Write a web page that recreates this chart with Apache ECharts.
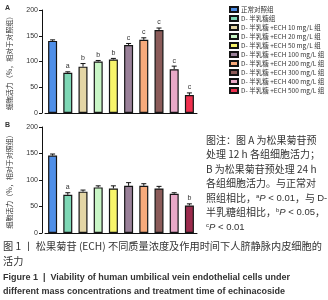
<!DOCTYPE html>
<html><head><meta charset="utf-8">
<script src="https://cdn.jsdelivr.net/npm/echarts@6/dist/echarts.min.js"></script>
<style>html,body{margin:0;padding:0;background:#fff}#c{width:328px;height:300px}</style>
</head><body><div id="c"></div>
<script>
const categories = ['正常对照组','D- 半乳糖组','D- 半乳糖 +ECH 10 mg/L 组','D- 半乳糖 +ECH 20 mg/L 组','D- 半乳糖 +ECH 50 mg/L 组','D- 半乳糖 +ECH 100 mg/L 组','D- 半乳糖 +ECH 200 mg/L 组','D- 半乳糖 +ECH 300 mg/L 组','D- 半乳糖 +ECH 400 mg/L 组','D- 半乳糖 +ECH 500 mg/L 组'];
const colorsA = ['#4f8fe8','#7ed8b6','#e3d5a5','#c9f6c6','#f7f46a','#9a8199','#f7aa7b','#8b5b59','#e9a9c8','#f0304f'];
const colorsB = ['#4f8fe8','#7ed8b6','#e3d5a5','#c9f6c6','#f7f46a','#9a8199','#f7aa7b','#8b5b59','#e9a9c8','#9c2b4d'];
const valuesA = [140,78,90,100,104,132,142,161,85,35];
const errorsA = [2,2,6,2,2,3,4,4,6,4];
const sigA = ['','a','b','b','b','c','c','c','c','c'];
const valuesB = [146,72,78,86,84,89,89,84,74,52];
const errorsB = [3,4,3,3,5,6,4,4,2,3];
const sigB = ['','a','','','','','','','','b'];
const yTicks = [0,50,100,150,200];
const yName = '细胞活力（%，相对于对照组）';
const noteLines = [
  '图注：图 A 为松果菊苷预',
  '处理 12 h 各组细胞活力；',
  'B 为松果菊苷预处理 24 h',
  '各组细胞活力。与正常对',
  '照组相比，{s|a}{i|P}{n| < 0.01}，与 {n|D-}',
  '半乳糖组相比，{s|b}{i|P}{n| < 0.05}，',
  '{s|c}{i|P}{n| < 0.01}'
];
const captionCN = ['图 1 丨 松果菊苷 (ECH) 不同质量浓度及作用时间下人脐静脉内皮细胞的','活力'];
const captionEN = ['Figure 1  |  Viability of human umbilical vein endothelial cells under','different mass concentrations and treatment time of echinacoside'];

const cjk = '"Noto Sans CJK SC", "Noto Sans", sans-serif';
const chart = echarts.init(document.getElementById('c'), null, {renderer:'canvas'});
const grids = [{left:45, width:152, top:10, height:103},{left:45, width:152, top:127, height:106}];
function xAx(i){return {type:'category', gridIndex:i, data:categories, boundaryGap:true,
  axisLine:{lineStyle:{color:'#111', width:1}}, axisTick:{alignWithLabel:true, length:4, lineStyle:{color:'#111'}},
  axisLabel:{show:false}};}
function yAx(i){return {type:'value', gridIndex:i, min:0, max:200, interval:50, offset:3,
  name:yName, nameLocation:'middle', nameGap:29, nameRotate:90,
  nameTextStyle:{fontSize:7, fontFamily:cjk, color:'#333'},
  axisLine:{show:true, lineStyle:{color:'#111', width:1}}, axisTick:{show:true, length:3, lineStyle:{color:'#111'}},
  splitLine:{show:false}, axisLabel:{fontSize:7, color:'#333', margin:4, fontFamily:'Liberation Sans'}};}
const series = [];
[[valuesA,colorsA],[valuesB,colorsB]].forEach(([vals,cols],p)=>{
  categories.forEach((name,i)=>{
    series.push({type:'bar', name, xAxisIndex:p, yAxisIndex:p, barWidth:9, barGap:'-100%',
      data: vals.map((v,j)=> j===i ? v : '-'),
      itemStyle:{color:cols[i], borderColor:'#151515', borderWidth:1.2}, animation:false});
  });
});
[[valuesA,errorsA,sigA],[valuesB,errorsB,sigB]].forEach(([vals,errs,sig],p)=>{
  series.push({type:'custom', xAxisIndex:p, yAxisIndex:p, animation:false, silent:true,
    data: vals.map((v,i)=>[i,v,v+errs[i]]),
    renderItem:(params, api)=>{
      const i = api.value(0);
      const b = api.coord([i, api.value(1)]);
      const t = api.coord([i, api.value(2)]);
      const ch = [
        {type:'line', shape:{x1:b[0],y1:b[1],x2:t[0],y2:t[1]}, style:{stroke:'#111', lineWidth:1}},
        {type:'line', shape:{x1:t[0]-2.5,y1:t[1],x2:t[0]+2.5,y2:t[1]}, style:{stroke:'#111', lineWidth:1}}
      ];
      if (sig[i]) ch.push({type:'text', x:t[0], y:t[1]-2, style:{text:sig[i], fill:'#333', fontSize:7, fontFamily:'Liberation Sans', align:'center', verticalAlign:'bottom'}});
      return {type:'group', children:ch};
    }});
});
const graphic = [
  {type:'text', left:5, top:5, style:{text:'A', fontSize:7, fontWeight:'bold', fill:'#333', fontFamily:'Liberation Sans'}},
  {type:'text', left:5, top:122, style:{text:'B', fontSize:7, fontWeight:'bold', fill:'#333', fontFamily:'Liberation Sans'}}
];
noteLines.forEach((t,k)=>graphic.push({type:'text', left:206, top:135+k*14.5, style:{text:t, fontSize:10, fontFamily:cjk, fill:'#333',
  rich:{s:{fontSize:6, verticalAlign:'top', fontFamily:'Liberation Sans', fill:'#333'},
        i:{fontSize:9.5, fontStyle:'italic', fontFamily:'Liberation Sans', fill:'#333'},
        n:{fontSize:9.5, fontFamily:'Liberation Sans', fill:'#333'}}}}));
captionCN.forEach((t,k)=>graphic.push({type:'text', left:3, top:241+k*15, style:{text:t, fontSize:10.2, fontFamily:cjk, fill:'#333'}}));
captionEN.forEach((t,k)=>graphic.push({type:'text', left:3, top:273+k*14, style:{text:t, fontSize:9, fontWeight:'bold', fontFamily:'"Liberation Sans Narrow", "Liberation Sans", sans-serif', fill:'#333'}}));
chart.setOption({
  animation:false,
  grid:grids,
  xAxis:[xAx(0),xAx(1)],
  yAxis:[yAx(0),yAx(1)],
  legend:{data:categories, orient:'vertical', left:224, top:1, itemWidth:8, itemHeight:5, itemGap:2, icon:'rect',
    textStyle:{fontSize:6.5, color:'#333', fontFamily:cjk, lineHeight:6.8, padding:[0,0,0,-2]}, selectedMode:false},
  series, graphic
});
</script></body></html>
